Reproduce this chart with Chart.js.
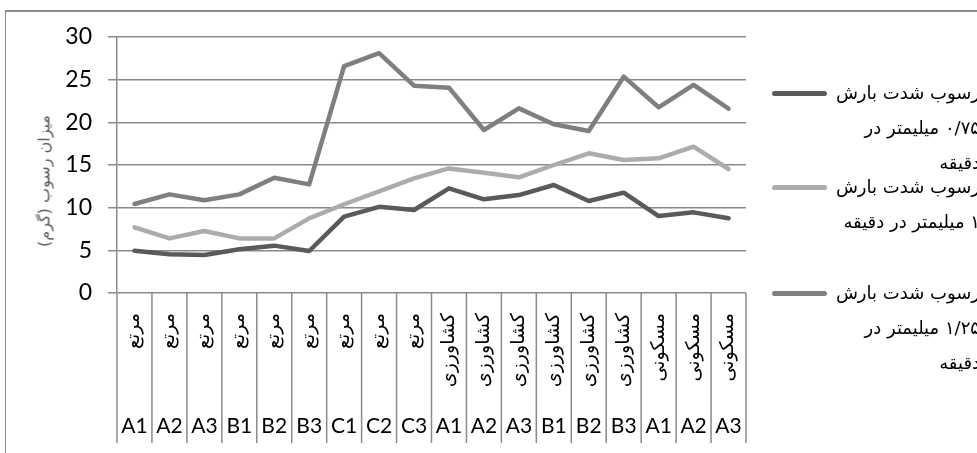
<!DOCTYPE html>
<html>
<head>
<meta charset="utf-8">
<script src="https://cdn.jsdelivr.net/npm/chart.js@4.4.1/dist/chart.umd.min.js"></script>
<style>
  html, body { margin: 0; padding: 0; background: #fff; width: 977px; height: 453px; overflow: hidden; }
  #frame { position: absolute; left: 5px; top: 10px; width: 1000px; height: 500px;
           border-left: 1.5px solid #8a8a8a; border-top: 2px solid #8a8a8a; }
  #wrap { position: absolute; left: 0; top: 0; width: 977px; height: 453px; }
  #ytitle { position: absolute; left: 44px; top: 181px; transform: translate(-50%, -50%) rotate(-90deg);
            white-space: nowrap; font: 16px 'DejaVu Sans', sans-serif; color: #595959; direction: rtl; }
  .sw { position: absolute; left: 772px; width: 55px; height: 5px; border-radius: 3px; }
  .lg { position: absolute; right: -3px; direction: rtl; white-space: nowrap;
        font: 18px 'DejaVu Sans', sans-serif; color: #000; line-height: 22px; }
</style>
</head>
<body>
<div id="frame"></div>
<div id="wrap"><canvas id="c" width="977" height="453"></canvas></div>
<div id="ytitle">میزان رسوب (گرم)</div>
<div id="legend"></div>
<script>
// Land use of each plot and plot codes (two-level category axis)
const landUse = ['مرتع','مرتع','مرتع','مرتع','مرتع','مرتع','مرتع','مرتع','مرتع',
                 'کشاورزی','کشاورزی','کشاورزی','کشاورزی','کشاورزی','کشاورزی',
                 'مسکونی','مسکونی','مسکونی'];
const plots = ['A1','A2','A3','B1','B2','B3','C1','C2','C3',
               'A1','A2','A3','B1','B2','B3','A1','A2','A3'];

// Sediment (g) for each rainfall intensity
const sed075 = [4.96, 4.53, 4.45, 5.12, 5.55, 4.92, 8.95, 10.1, 9.73,
                12.27, 10.98, 11.48, 12.66, 10.78, 11.76, 9.02, 9.45, 8.75];
const sed100 = [7.7, 6.4, 7.27, 6.4, 6.4, 8.75, 10.4, 11.9, 13.44,
                14.6, 14.1, 13.56, 15.0, 16.37, 15.59, 15.78, 17.15, 14.53];
const sed125 = [10.43, 11.56, 10.86, 11.56, 13.5, 12.73, 26.6, 28.1, 24.3,
                24.06, 19.1, 21.64, 19.77, 18.98, 25.35, 21.76, 24.38, 21.6];

// Legend captions, one entry per line as wrapped in the legend box
const seriesLines = [
  ['رسوب شدت بارش', '۰/۷۵ میلیمتر در', 'دقیقه'],
  ['رسوب شدت بارش', '۱ میلیمتر در دقیقه'],
  ['رسوب شدت بارش', '۱/۲۵ میلیمتر در', 'دقیقه']
];
const yTicks = [0, 5, 10, 15, 20, 25, 30];

const colors = ['#5a5a5a', '#acacac', '#7f7f7f'];
const values = [sed075, sed100, sed125];

const gridGray = '#8a8a8a';

// vertical separators between categories, running through both label rows
const separators = {
  id: 'separators',
  afterDraw(chart) {
    const x = chart.scales.x, x2 = chart.scales.x2;
    const ctx = chart.ctx;
    const n = landUse.length;
    ctx.save();
    ctx.strokeStyle = gridGray;
    ctx.lineWidth = 1.5;
    for (let i = 0; i <= n; i++) {
      const px = i === 0 ? x.left : i === n ? x.right
        : (x.getPixelForValue(i - 1) + x.getPixelForValue(i)) / 2;
      ctx.beginPath();
      ctx.moveTo(px, chart.chartArea.bottom);
      ctx.lineTo(px, x2.bottom);
      ctx.stroke();
    }
    ctx.restore();
  }
};

const chart = new Chart(document.getElementById('c'), {
  type: 'line',
  data: {
    labels: landUse,
    datasets: values.map((v, i) => ({
      label: seriesLines[i].join(' '),
      data: v,
      borderColor: colors[i],
      backgroundColor: colors[i],
      borderWidth: 4.5,
      pointRadius: 0,
      tension: 0,
      borderJoinStyle: 'round',
      borderCapStyle: 'round',
      order: 3 - i
    }))
  },
  plugins: [separators],
  options: {
    responsive: false,
    animation: false,
    events: [],
    layout: { padding: { left: 10, right: 231, top: 37, bottom: 10 } },
    plugins: { legend: { display: false }, tooltip: { enabled: false } },
    scales: {
      y: {
        min: 0, max: 30,
        afterBuildTicks(s) { s.ticks = yTicks.map(v => ({ value: v })); },
        afterFit(s) { s.width = 107; },
        ticks: { color: '#000', padding: 16, font: { family: 'Lato', size: 23 } },
        grid: { color: gridGray, lineWidth: 1.5, tickLength: 9 },
        border: { color: gridGray, width: 1.5 }
      },
      x: {
        type: 'category',
        offset: true,
        afterFit(s) { s.height = 110; },
        ticks: { color: '#000', autoSkip: false, minRotation: 90, maxRotation: 90, padding: 20,
                 font: { family: 'DejaVu Sans', size: 19 } },
        grid: { display: false, drawTicks: false },
        border: { display: false }
      },
      x2: {
        type: 'category',
        position: 'bottom',
        labels: plots,
        offset: true,
        weight: 1,
        afterFit(s) { s.height = 40; },
        ticks: { color: '#000', autoSkip: false, maxRotation: 0, padding: 11,
                 font: { family: 'Lato', size: 21 } },
        grid: { display: false, drawTicks: false },
        border: { display: false }
      }
    }
  }
});

// legend built from the chart datasets
const legend = document.getElementById('legend');
const entryCenters = [93, 187, 293];
chart.data.datasets.forEach((ds, i) => {
  const sw = document.createElement('div');
  sw.className = 'sw';
  sw.style.background = ds.borderColor;
  sw.style.top = (entryCenters[i] - 2.5) + 'px';
  legend.appendChild(sw);
  seriesLines[i].forEach((line, j) => {
    const d = document.createElement('div');
    d.className = 'lg';
    d.textContent = line;
    d.style.top = (entryCenters[i] + j * 35 - 11) + 'px';
    legend.appendChild(d);
  });
});
</script>
</body>
</html>
